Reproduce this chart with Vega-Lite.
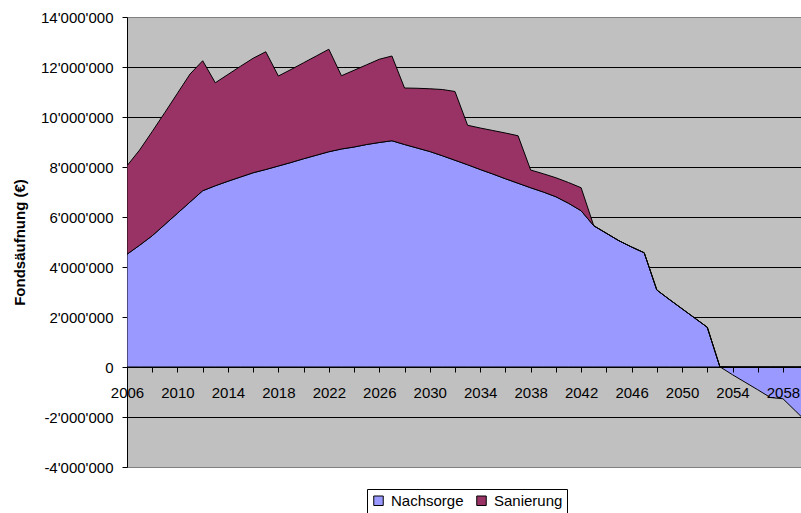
{
  "$schema": "https://vega.github.io/schema/vega-lite/v6.json",
  "autosize": {"type": "none"},
  "padding": {"left": 127, "top": 17, "right": 0, "bottom": 46},
  "width": 674,
  "height": 450,
  "background": "white",
  "config": {
    "locale": {"number": {"decimal": ".", "thousands": "'", "grouping": [3], "currency": ["", ""], "minus": "-"}},
    "view": {"fill": "#C0C0C0", "stroke": "#808080", "strokeWidth": 1},
    "font": "Liberation Sans"
  },
  "data": {
    "values": [
      {"year": 2006, "series": "Nachsorge", "value": 4510000}, {"year": 2006, "series": "Sanierung", "value": 3540000},
      {"year": 2007, "series": "Nachsorge", "value": 4870000}, {"year": 2007, "series": "Sanierung", "value": 3810000},
      {"year": 2008, "series": "Nachsorge", "value": 5250000}, {"year": 2008, "series": "Sanierung", "value": 4170000},
      {"year": 2009, "series": "Nachsorge", "value": 5700000}, {"year": 2009, "series": "Sanierung", "value": 4480000},
      {"year": 2010, "series": "Nachsorge", "value": 6150000}, {"year": 2010, "series": "Sanierung", "value": 4800000},
      {"year": 2011, "series": "Nachsorge", "value": 6600000}, {"year": 2011, "series": "Sanierung", "value": 5120000},
      {"year": 2012, "series": "Nachsorge", "value": 7050000}, {"year": 2012, "series": "Sanierung", "value": 5200000},
      {"year": 2013, "series": "Nachsorge", "value": 7250000}, {"year": 2013, "series": "Sanierung", "value": 4120000},
      {"year": 2014, "series": "Nachsorge", "value": 7430000}, {"year": 2014, "series": "Sanierung", "value": 4270000},
      {"year": 2015, "series": "Nachsorge", "value": 7600000}, {"year": 2015, "series": "Sanierung", "value": 4430000},
      {"year": 2016, "series": "Nachsorge", "value": 7770000}, {"year": 2016, "series": "Sanierung", "value": 4580000},
      {"year": 2017, "series": "Nachsorge", "value": 7900000}, {"year": 2017, "series": "Sanierung", "value": 4710000},
      {"year": 2018, "series": "Nachsorge", "value": 8040000}, {"year": 2018, "series": "Sanierung", "value": 3600000},
      {"year": 2019, "series": "Nachsorge", "value": 8180000}, {"year": 2019, "series": "Sanierung", "value": 3720000},
      {"year": 2020, "series": "Nachsorge", "value": 8330000}, {"year": 2020, "series": "Sanierung", "value": 3840000},
      {"year": 2021, "series": "Nachsorge", "value": 8470000}, {"year": 2021, "series": "Sanierung", "value": 3970000},
      {"year": 2022, "series": "Nachsorge", "value": 8610000}, {"year": 2022, "series": "Sanierung", "value": 4100000},
      {"year": 2023, "series": "Nachsorge", "value": 8720000}, {"year": 2023, "series": "Sanierung", "value": 2930000},
      {"year": 2024, "series": "Nachsorge", "value": 8800000}, {"year": 2024, "series": "Sanierung", "value": 3070000},
      {"year": 2025, "series": "Nachsorge", "value": 8900000}, {"year": 2025, "series": "Sanierung", "value": 3190000},
      {"year": 2026, "series": "Nachsorge", "value": 8980000}, {"year": 2026, "series": "Sanierung", "value": 3330000},
      {"year": 2027, "series": "Nachsorge", "value": 9050000}, {"year": 2027, "series": "Sanierung", "value": 3390000},
      {"year": 2028, "series": "Nachsorge", "value": 8900000}, {"year": 2028, "series": "Sanierung", "value": 2260000},
      {"year": 2029, "series": "Nachsorge", "value": 8760000}, {"year": 2029, "series": "Sanierung", "value": 2390000},
      {"year": 2030, "series": "Nachsorge", "value": 8620000}, {"year": 2030, "series": "Sanierung", "value": 2510000},
      {"year": 2031, "series": "Nachsorge", "value": 8450000}, {"year": 2031, "series": "Sanierung", "value": 2650000},
      {"year": 2032, "series": "Nachsorge", "value": 8270000}, {"year": 2032, "series": "Sanierung", "value": 2750000},
      {"year": 2033, "series": "Nachsorge", "value": 8090000}, {"year": 2033, "series": "Sanierung", "value": 1580000},
      {"year": 2034, "series": "Nachsorge", "value": 7900000}, {"year": 2034, "series": "Sanierung", "value": 1660000},
      {"year": 2035, "series": "Nachsorge", "value": 7720000}, {"year": 2035, "series": "Sanierung", "value": 1740000},
      {"year": 2036, "series": "Nachsorge", "value": 7530000}, {"year": 2036, "series": "Sanierung", "value": 1830000},
      {"year": 2037, "series": "Nachsorge", "value": 7350000}, {"year": 2037, "series": "Sanierung", "value": 1900000},
      {"year": 2038, "series": "Nachsorge", "value": 7170000}, {"year": 2038, "series": "Sanierung", "value": 710000},
      {"year": 2039, "series": "Nachsorge", "value": 7000000}, {"year": 2039, "series": "Sanierung", "value": 730000},
      {"year": 2040, "series": "Nachsorge", "value": 6810000}, {"year": 2040, "series": "Sanierung", "value": 760000},
      {"year": 2041, "series": "Nachsorge", "value": 6550000}, {"year": 2041, "series": "Sanierung", "value": 830000},
      {"year": 2042, "series": "Nachsorge", "value": 6250000}, {"year": 2042, "series": "Sanierung", "value": 920000},
      {"year": 2043, "series": "Nachsorge", "value": 5650000}, {"year": 2043, "series": "Sanierung", "value": 0},
      {"year": 2044, "series": "Nachsorge", "value": 5350000}, {"year": 2044, "series": "Sanierung", "value": 0},
      {"year": 2045, "series": "Nachsorge", "value": 5050000}, {"year": 2045, "series": "Sanierung", "value": 0},
      {"year": 2046, "series": "Nachsorge", "value": 4800000}, {"year": 2046, "series": "Sanierung", "value": 0},
      {"year": 2047, "series": "Nachsorge", "value": 4570000}, {"year": 2047, "series": "Sanierung", "value": 0},
      {"year": 2048, "series": "Nachsorge", "value": 3080000}, {"year": 2048, "series": "Sanierung", "value": 0},
      {"year": 2049, "series": "Nachsorge", "value": 2700000}, {"year": 2049, "series": "Sanierung", "value": 0},
      {"year": 2050, "series": "Nachsorge", "value": 2330000}, {"year": 2050, "series": "Sanierung", "value": 0},
      {"year": 2051, "series": "Nachsorge", "value": 1960000}, {"year": 2051, "series": "Sanierung", "value": 0},
      {"year": 2052, "series": "Nachsorge", "value": 1590000}, {"year": 2052, "series": "Sanierung", "value": 0},
      {"year": 2053, "series": "Nachsorge", "value": 10000}, {"year": 2053, "series": "Sanierung", "value": 0},
      {"year": 2054, "series": "Nachsorge", "value": -310000}, {"year": 2054, "series": "Sanierung", "value": 0},
      {"year": 2055, "series": "Nachsorge", "value": -610000}, {"year": 2055, "series": "Sanierung", "value": 0},
      {"year": 2056, "series": "Nachsorge", "value": -910000}, {"year": 2056, "series": "Sanierung", "value": 0},
      {"year": 2057, "series": "Nachsorge", "value": -1220000}, {"year": 2057, "series": "Sanierung", "value": 0},
      {"year": 2058, "series": "Nachsorge", "value": -1270000}, {"year": 2058, "series": "Sanierung", "value": 0},
      {"year": 2059, "series": "Nachsorge", "value": -1760000}, {"year": 2059, "series": "Sanierung", "value": 0},
      {"year": 2060, "series": "Nachsorge", "value": -2260000}, {"year": 2060, "series": "Sanierung", "value": 0}
    ]
  },
  "transform": [
    {"stack": "value", "groupby": ["year"], "sort": [{"field": "series", "order": "ascending"}], "as": ["v0", "v1"]}
  ],
  "mark": {"type": "area", "clip": true, "stroke": "black", "strokeWidth": 1, "opacity": 1, "interpolate": "linear"},
  "encoding": {
    "x": {
      "field": "year", "type": "quantitative",
      "scale": {"domain": [2006, 2059.43], "nice": false, "zero": false},
      "axis": {
        "title": null, "orient": "bottom", "offset": -100, "zindex": 1,
        "values": [2006, 2008, 2010, 2012, 2014, 2016, 2018, 2020, 2022, 2024, 2026, 2028, 2030, 2032, 2034, 2036, 2038, 2040, 2042, 2044, 2046, 2048, 2050, 2052, 2054, 2056, 2058],
        "format": "d",
        "labelExpr": "(datum.value - 2006) % 4 == 0 ? datum.label : ''",
        "grid": false, "domainColor": "black", "domainWidth": 1,
        "tickColor": "black", "tickSize": 5, "tickWidth": 1,
        "labelFont": "Liberation Sans", "labelFontSize": 15, "labelColor": "black",
        "labelPadding": 13, "labelOverlap": false, "labelFlush": false, "labelBound": false
      }
    },
    "y": {
      "field": "v1", "type": "quantitative",
      "scale": {"domain": [-4000000, 14000000], "nice": false, "zero": false},
      "axis": {
        "title": "Fondsäufnung (€)", "zindex": 0,
        "values": [-4000000, -2000000, 0, 2000000, 4000000, 6000000, 8000000, 10000000, 12000000, 14000000],
        "format": ",d",
        "grid": true,
        "gridColor": {"condition": {"test": "datum.value == 14000000 || datum.value == -4000000", "value": "#808080"}, "value": "black"},
        "gridWidth": 1,
        "domainColor": "black", "domainWidth": 1,
        "tickColor": "black", "tickSize": 5, "tickWidth": 1,
        "labelFont": "Liberation Sans", "labelFontSize": 15, "labelColor": "black", "labelPadding": 9,
        "titleFont": "Liberation Sans", "titleFontSize": 15, "titleFontWeight": "bold", "titleColor": "black", "titlePadding": 13
      }
    },
    "y2": {"field": "v0"},
    "color": {
      "field": "series", "type": "nominal",
      "scale": {"domain": ["Nachsorge", "Sanierung"], "range": ["#9999FF", "#993366"]},
      "legend": {
        "title": null, "orient": "none", "legendX": 240, "legendY": 472, "direction": "horizontal",
        "strokeColor": "black", "fillColor": "white", "padding": 4,
        "symbolType": "square", "symbolSize": 90, "symbolStrokeColor": "black", "symbolStrokeWidth": 1, "symbolOpacity": 1,
        "labelFont": "Liberation Sans", "labelFontSize": 15, "labelColor": "black", "labelOffset": 5, "columnPadding": 10
      }
    }
  }
}
